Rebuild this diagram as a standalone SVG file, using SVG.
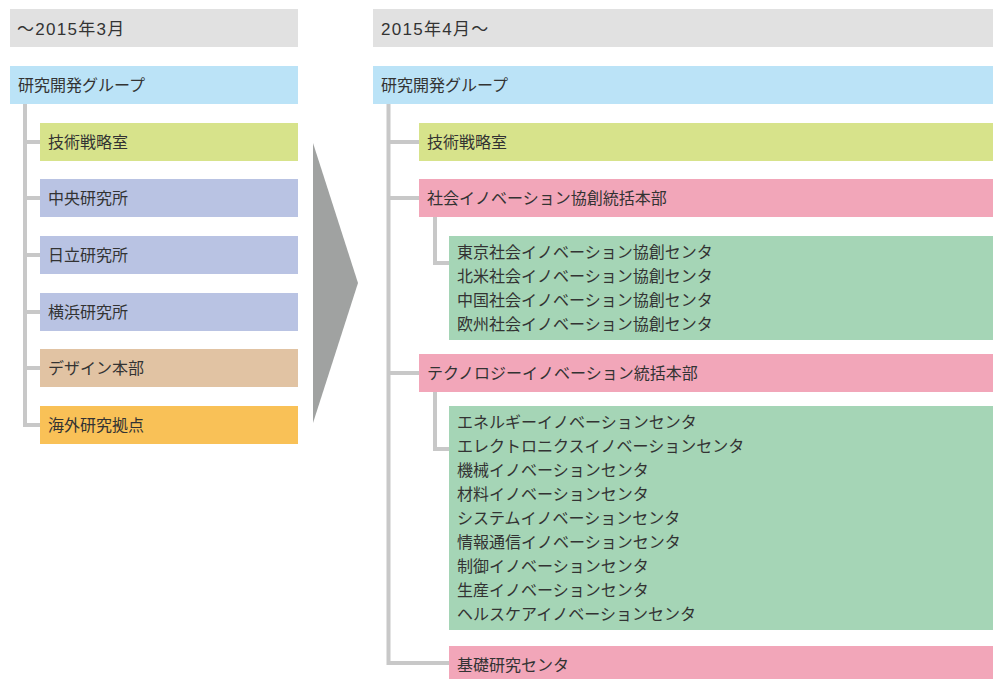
<svg xmlns="http://www.w3.org/2000/svg" width="998" height="679" viewBox="0 0 998 679">
<style>
text{font-family:"Noto Sans CJK JP","Noto Sans",sans-serif;font-size:16px;fill:#333;}
text.h{font-family:"Liberation Sans","Noto Sans CJK JP",sans-serif;font-size:17px;letter-spacing:1.3px;}
.ln{stroke:#c8c8c8;stroke-width:4;fill:none;}
.hd{fill:#e1e1e1}.rt{fill:#bbe3f7}.yg{fill:#d7e38b}.lv{fill:#b9c3e3}.tn{fill:#e1c3a3}.or{fill:#f9c157}.pk{fill:#f2a6b9}.gr{fill:#a5d5b6}
</style>
<rect width="998" height="679" fill="#fff"/>
<g id="connectors">
<path class="ln" d="M25 104V425H40M25 142H40M25 198H40M25 255H40M25 312H40M25 368H40"/>
<path class="ln" d="M388.5 104V663H449M388.5 142H419M388.5 198H419M388.5 373H419"/>
<path class="ln" d="M435 217V263H449M435 392V449H449"/>
<polygon points="313,143 358,283 313,423" fill="#a0a2a1"/>
</g>
<g id="hdr-left"><rect class="hd" x="10" y="9" width="288" height="38"/><text class="h" x="17" y="35">〜2015年3月</text></g>
<g id="hdr-right"><rect class="hd" x="373" y="9" width="620" height="38"/><text class="h" x="381" y="35">2015年4月〜</text></g>
<g id="l-root"><rect class="rt" x="10" y="66" width="288" height="38"/><text x="18" y="91">研究開発グループ</text></g>
<g id="l-1"><rect class="yg" x="40" y="123" width="258" height="38"/><text x="48" y="148">技術戦略室</text></g>
<g id="l-2"><rect class="lv" x="40" y="179" width="258" height="38"/><text x="48" y="204">中央研究所</text></g>
<g id="l-3"><rect class="lv" x="40" y="236" width="258" height="38"/><text x="48" y="261">日立研究所</text></g>
<g id="l-4"><rect class="lv" x="40" y="293" width="258" height="38"/><text x="48" y="318">横浜研究所</text></g>
<g id="l-5"><rect class="tn" x="40" y="349" width="258" height="38"/><text x="48" y="374">デザイン本部</text></g>
<g id="l-6"><rect class="or" x="40" y="406" width="258" height="38"/><text x="48" y="431">海外研究拠点</text></g>
<g id="r-root"><rect class="rt" x="373" y="66" width="620" height="38"/><text x="381" y="91">研究開発グループ</text></g>
<g id="r-1"><rect class="yg" x="419" y="123" width="574" height="38"/><text x="427" y="148">技術戦略室</text></g>
<g id="r-2"><rect class="pk" x="419" y="179" width="574" height="38"/><text x="427" y="204">社会イノベーション協創統括本部</text></g>
<g id="r-2a"><rect class="gr" x="449" y="236" width="544" height="104"/>
<text x="457" y="258">東京社会イノベーション協創センタ</text>
<text x="457" y="282">北米社会イノベーション協創センタ</text>
<text x="457" y="306">中国社会イノベーション協創センタ</text>
<text x="457" y="330">欧州社会イノベーション協創センタ</text></g>
<g id="r-3"><rect class="pk" x="419" y="354" width="574" height="38"/><text x="427" y="379">テクノロジーイノベーション統括本部</text></g>
<g id="r-3a"><rect class="gr" x="449" y="406" width="544" height="224"/>
<text x="457" y="428">エネルギーイノベーションセンタ</text>
<text x="457" y="452">エレクトロニクスイノベーションセンタ</text>
<text x="457" y="476">機械イノベーションセンタ</text>
<text x="457" y="500">材料イノベーションセンタ</text>
<text x="457" y="524">システムイノベーションセンタ</text>
<text x="457" y="548">情報通信イノベーションセンタ</text>
<text x="457" y="572">制御イノベーションセンタ</text>
<text x="457" y="596">生産イノベーションセンタ</text>
<text x="457" y="620">ヘルスケアイノベーションセンタ</text></g>
<g id="r-4"><rect class="pk" x="449" y="646" width="544" height="38"/><text x="457" y="671">基礎研究センタ</text></g>
</svg>
